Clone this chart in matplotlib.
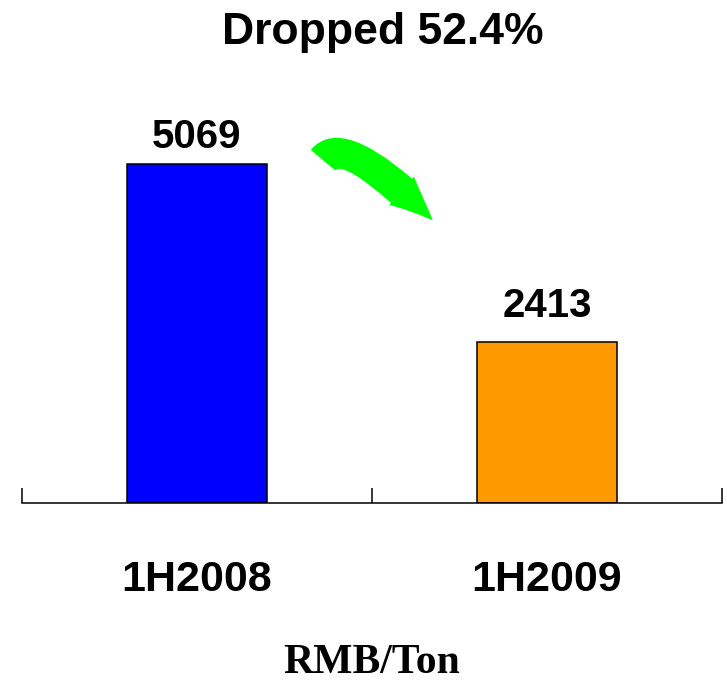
import numpy as np
import matplotlib.pyplot as plt
from matplotlib.patches import FancyArrowPatch

periods = ['1H2008', '1H2009']
prices = [5069, 2413]
bar_colors = ['#0000ff', '#ff9900']
drop_pct = (1 - prices[1] / prices[0]) * 100

plt.rcParams['font.family'] = 'Liberation Sans'

fig = plt.figure(figsize=(7.27, 6.88), dpi=100)
ax = fig.add_axes([22 / 727, 185 / 688, 700 / 727, 401 / 688])

x = np.arange(len(periods))
bars = ax.bar(x, prices, width=0.4, color=bar_colors, edgecolor='black', linewidth=1.1)

# value labels above bars
for b, v, off in zip(bars, prices, [6, 12]):
    ax.annotate(f'{v}', (b.get_x() + b.get_width() / 2, v), xytext=(0, off),
                textcoords='offset points', ha='center', va='bottom',
                fontsize=29, fontweight='bold')

ax.set_xlim(-0.5, 1.5)
ax.set_ylim(0, 6000)

for s in ['top', 'right', 'left']:
    ax.spines[s].set_visible(False)
ax.spines['bottom'].set_linewidth(1.1)
ax.set_yticks([])

ax.set_xticks([-0.5, 0.5, 1.5])
ax.set_xticklabels([])
ax.tick_params(axis='x', which='major', direction='in', length=11, width=1.1)
ax.set_xticks(x, minor=True)
ax.set_xticklabels(periods, minor=True, fontsize=31, fontweight='bold')
ax.tick_params(axis='x', which='minor', length=0, pad=41)

ax.set_xlabel('RMB/Ton', fontsize=30, family='Liberation Serif', fontweight='bold', labelpad=32)

ax.set_title(f'Dropped {drop_pct:.1f}%', fontsize=32, fontweight='bold', pad=42, x=0.515)

# green curved arrow between bars
arrow = FancyArrowPatch((0.36, 5130), (0.674, 4230),
                        connectionstyle='angle3,angleA=50,angleB=-45',
                        arrowstyle='simple,head_length=31,head_width=27,tail_width=23',
                        mutation_scale=1, color='#00ff00', lw=0,
                        shrinkA=0, shrinkB=0, clip_on=False)
ax.add_patch(arrow)

fig.savefig('out.png', dpi=100)
